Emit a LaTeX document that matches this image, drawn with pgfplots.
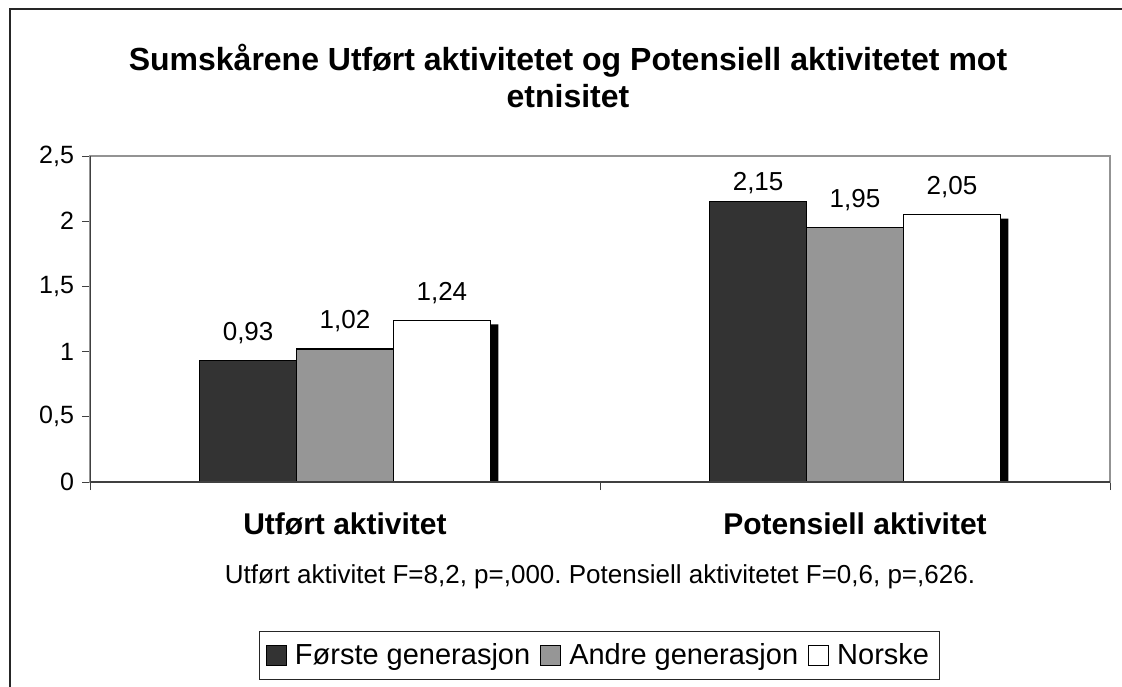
\documentclass[border=0pt]{standalone}
\usepackage{pgfplots}
\pgfplotsset{compat=1.18}
\usepackage{fontspec}
\setmainfont{Liberation Sans}
\frenchspacing
\definecolor{darkbar}{HTML}{333333}
\definecolor{graybar}{HTML}{969696}
\begin{document}
\begin{tikzpicture}
\draw[line width=0.6pt, black!85] (5pt,-10pt) -- (5pt,338.5pt) -- (570pt,338.5pt);
\node[font=\bfseries\fontsize{16}{18.5}\selectfont, align=center] at (284pt,305pt)
  {Sumskårene Utført aktivitetet og Potensiell aktivitetet mot\\etnisitet};
\node[font=\fontsize{13}{15}\selectfont] at (300pt,54.5pt)
  {Utført aktivitet F=8,2, p=,000. Potensiell aktivitetet F=0,6, p=,626.};
\begin{axis}[
  at={(45pt,102pt)}, anchor=south west, scale only axis,
  width=510pt, height=163pt,
  xmin=0, xmax=2, ymin=0, ymax=2.5,
  ytick={0,0.5,1,1.5,2,2.5},
  xtick={0,1,2}, xticklabels={},
  extra x ticks={0.5,1.5},
  extra x tick labels={Utført aktivitet, Potensiell aktivitet},
  extra x tick style={major tick length=0pt,
    tick label style={font=\bfseries\fontsize{15}{18}\selectfont, yshift=-12pt}},
  tick align=outside, xtick pos=bottom, ytick pos=left,
  major tick length=4pt,
  tick style={black!75, line width=0.5pt},
  axis line style={draw=gray!85, line width=0.6pt},
  yticklabel style={font=\fontsize{12.5}{14}\selectfont, xshift=-0.5pt},
  /pgf/number format/use comma,
  /pgf/number format/assume math mode=true,
  ybar=0pt, bar width=0.19,
  legend columns=-1,
  legend style={at={(0.4995,-0.5307)}, anchor=center, draw=black!85,
    line width=0.5pt, font=\fontsize{14.5}{17}\selectfont,
    inner xsep=3pt, inner ysep=4pt,
    /tikz/every odd column/.append style={column sep=2pt},
    /tikz/every even column/.append style={column sep=3pt}},
  legend image code/.code={\draw[#1, line width=0.5pt] (0pt,-5pt) rectangle (10pt,5pt);},
  nodes near coords style={font=\fontsize{13}{15}\selectfont, anchor=base, yshift=10pt,
    /pgf/number format/fixed, /pgf/number format/fixed zerofill,
    /pgf/number format/precision=2, /pgf/number format/use comma},
]
\addlegendimage{fill=darkbar, draw=black}
\addlegendimage{fill=graybar, draw=black}
\addlegendimage{fill=white, draw=black}
\legend{Første generasjon, Andre generasjon, Norske}
% shadow of the Norske bars
\addplot[forget plot, fill=black, draw=none, bar shift=0.2057, yshift=-2pt]
  coordinates {(0.5,1.24) (1.5,2.05)};
\addplot[forget plot, fill=darkbar, draw=black, line width=0.6pt, bar shift=-0.19, nodes near coords,
  coordinate style/.condition={y>2.1}{yshift=-4.5pt}]
  coordinates {(0.5,0.93) (1.5,2.15)};
\addplot[forget plot, fill=graybar, draw=black, line width=0.6pt, bar shift=0, nodes near coords]
  coordinates {(0.5,1.02) (1.5,1.95)};
\addplot[forget plot, fill=white, draw=black, line width=0.6pt, bar shift=0.19, nodes near coords]
  coordinates {(0.5,1.24) (1.5,2.05)};
\draw[black!75, line width=0.6pt] (rel axis cs:0,1) -- (rel axis cs:0,0) -- (rel axis cs:1,0);
\end{axis}
\pgfresetboundingbox
\path (0,0) rectangle (561pt,343pt);
\end{tikzpicture}
\end{document}
